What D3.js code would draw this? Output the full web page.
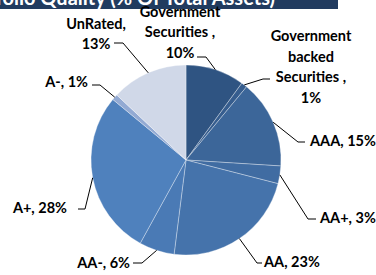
<!DOCTYPE html>
<html>
<head>
<meta charset="utf-8">
<script src="https://cdn.jsdelivr.net/npm/d3@7"></script>
<style>
html,body{margin:0;padding:0;background:#fff;}
svg{display:block;}
</style>
</head>
<body>
<svg id="chart" width="376" height="275"></svg>
<script>
const categories = ["Government Securities", "Government backed Securities", "AAA", "AA+", "AA", "AA-", "A+", "A-", "UnRated"];
const values = [10, 1, 15, 3, 23, 6, 28, 1, 13];
const labelTexts = [
  ["Government", "Securities ,", "10%"],
  ["Government", "backed", "Securities ,", "1%"],
  ["AAA, 15%"],
  ["AA+, 3%"],
  ["AA, 23%"],
  ["AA-, 6%"],
  ["A+, 28%"],
  ["A-, 1%"],
  ["UnRated,", "13%"]
];
const titleText = "Portfolio Quality (% Of Total Assets)";

// styling / layout (kept separate from data)
const colors = ["#2f5482", "#365d8e", "#3c6699", "#406ca2", "#4573ab", "#4a7ab5", "#4f81bd", "#93aad3", "#d0d8e8"];
const cx = 186, cy = 160, R = 95;
const labelLayout = [
  {x: 180, anchor: "middle", y0: 16.5, dy: 20.5, elbow: [[206, 57], [197, 57]]},
  {x: 311, anchor: "middle", y0: 41, dy: 20.5, elbow: [[263, 79], [270, 79]]},
  {x: 310, anchor: "start", y0: 146, dy: 0, elbow: [[298, 142], [305, 142]]},
  {x: 320, anchor: "start", y0: 223, dy: 0, elbow: [[308, 219], [316, 219]]},
  {x: 264, anchor: "start", y0: 267, dy: 0, elbow: [[257, 263], [262, 263]]},
  {x: 130, anchor: "end", y0: 268, dy: 0, elbow: [[142, 263], [133, 263]]},
  {x: 67, anchor: "end", y0: 213, dy: 0, elbow: [[85, 209], [78, 209]]},
  {x: 88, anchor: "end", y0: 87, dy: 0, elbow: [[100, 85], [92, 85]]},
  {x: 96, anchor: "middle", y0: 29, dy: 19.5, elbow: [[123, 43], [114, 43]]}
];

const svg = d3.select("#chart");

// title banner
svg.append("rect").attr("x", 0).attr("y", 0).attr("width", 338).attr("height", 9).attr("fill", "#213b5f");
svg.append("text").attr("x", 275).attr("y", 5).attr("text-anchor", "end")
  .attr("font-family", "Lato, 'Open Sans', sans-serif").attr("font-weight", "bold")
  .attr("font-size", 20).attr("fill", "#fff").text(titleText);

const pie = d3.pie().sort(null).value(d => d)(values);
const arc = d3.arc().innerRadius(0).outerRadius(R);
const edgeArc = d3.arc().innerRadius(R).outerRadius(R);

const g = svg.append("g").attr("transform", `translate(${cx},${cy})`);
g.selectAll("path.slice").data(pie).join("path")
  .attr("class", "slice")
  .attr("d", arc)
  .attr("fill", (d, i) => colors[i])
  .attr("stroke", "rgba(255,255,255,0.55)")
  .attr("stroke-width", 0.6);

// leader lines
const line = d3.line();
svg.selectAll("path.leader").data(pie).join("path")
  .attr("class", "leader")
  .attr("d", (d, i) => {
    const c = edgeArc.centroid(d);
    const pts = [[c[0] + cx, c[1] + cy]].concat(labelLayout[i].elbow);
    return line(pts);
  })
  .attr("fill", "none").attr("stroke", "#000").attr("stroke-width", 1);

// labels
labelTexts.forEach((lines, i) => {
  const L = labelLayout[i];
  const t = svg.append("text")
    .attr("text-anchor", L.anchor)
    .attr("font-family", "Lato, 'Open Sans', sans-serif")
    .attr("font-weight", "bold")
    .attr("font-size", 14.5)
    .attr("fill", "#000");
  lines.forEach((s, k) => {
    t.append("tspan").attr("x", L.x).attr("y", L.y0 + k * L.dy).text(s);
  });
});
</script>
</body>
</html>
